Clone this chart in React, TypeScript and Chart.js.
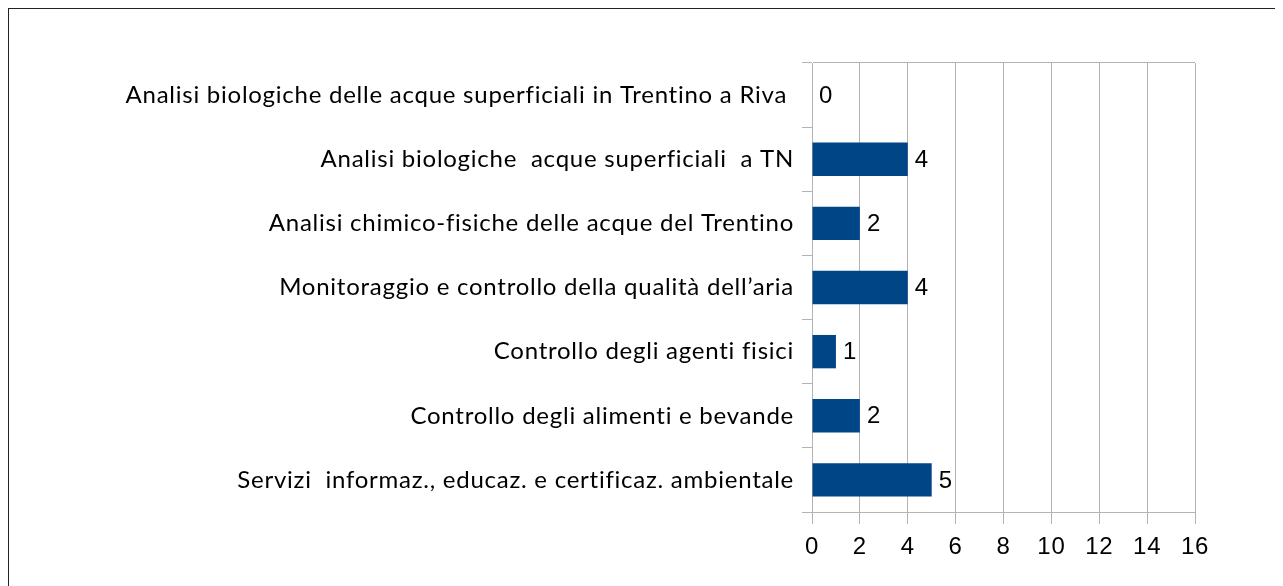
import React, { useEffect, useRef } from "react";
import { Chart, registerables } from "chart.js";

Chart.register(...registerables);

const categories = [
  "Analisi biologiche delle acque superficiali in Trentino a Riva ",
  "Analisi biologiche  acque superficiali  a TN",
  "Analisi chimico-fisiche delle acque del Trentino",
  "Monitoraggio e controllo della qualità dell’aria",
  "Controllo degli agenti fisici",
  "Controllo degli alimenti e bevande",
  "Servizi  informaz., educaz. e certificaz. ambientale",
];
const values = [0, 4, 2, 4, 1, 2, 5];
const xMin = 0;
const xMax = 16;
const xStep = 2;

const GRID = "#b3b3b3";
const BAR = "#004586";

const spacing = {
  id: "spacing",
  beforeDraw(chart: any) {
    chart.ctx.letterSpacing = "0.75px";
  },
  beforeDatasetsDraw(chart: any) {
    chart.ctx.letterSpacing = "0px";
  },
};

const valueLabels = {
  id: "valueLabels",
  afterDatasetsDraw(chart: any) {
    const { ctx } = chart;
    const meta = chart.getDatasetMeta(0);
    ctx.save();
    ctx.letterSpacing = "0px";
    ctx.font = "24px 'Liberation Sans', Arial, sans-serif";
    ctx.fillStyle = "#000";
    ctx.textAlign = "left";
    ctx.textBaseline = "middle";
    meta.data.forEach((bar: any, i: number) => {
      const v = chart.data.datasets[0].data[i];
      ctx.fillText(String(v), bar.x + 7, bar.y + 1);
    });
    ctx.restore();
  },
};

export default function App() {
  const ref = useRef<HTMLCanvasElement>(null);
  useEffect(() => {
    if (!ref.current) return;
    const chart = new Chart(ref.current, {
      type: "bar",
      data: {
        labels: categories,
        datasets: [
          {
            data: values,
            backgroundColor: BAR,
            borderWidth: 0,
            barPercentage: 0.52,
            categoryPercentage: 1,
          },
        ],
      },
      options: {
        indexAxis: "y",
        animation: false,
        responsive: false,
        maintainAspectRatio: false,
        layout: { padding: { top: 54, right: 88, left: 0, bottom: 0 } },
        plugins: { legend: { display: false }, tooltip: { enabled: false } },
        scales: {
          x: {
            min: xMin,
            max: xMax,
            ticks: {
              stepSize: xStep,
              color: "#000",
              font: { family: "'Liberation Sans', Arial, sans-serif", size: 24 },
              padding: 9,
            },
            grid: { color: GRID, tickColor: GRID, tickLength: 12, lineWidth: 1 },
            border: { color: GRID },
            afterFit: (s: any) => {
              s.height = 74;
            },
          },
          y: {
            ticks: {
              color: "#000",
              font: { family: "Lato, sans-serif", size: 24 },
              padding: 8,
              autoSkip: false,
            },
            grid: {
              offset: true,
              color: (c: any) => (c.index === 0 ? GRID : "rgba(0,0,0,0)"),
              tickColor: GRID,
              tickLength: 10,
            },
            border: { color: GRID },
            afterFit: (s: any) => {
              s.width = 803;
            },
          },
        },
      },
      plugins: [spacing, valueLabels],
    });
    return () => chart.destroy();
  }, []);
  return (
    <div
      style={{
        width: 1274,
        height: 577,
        borderLeft: "1px solid #222",
        borderTop: "1px solid #222",
      }}
    >
      <canvas ref={ref} width={1274} height={577} style={{ display: "block" }} />
    </div>
  );
}
